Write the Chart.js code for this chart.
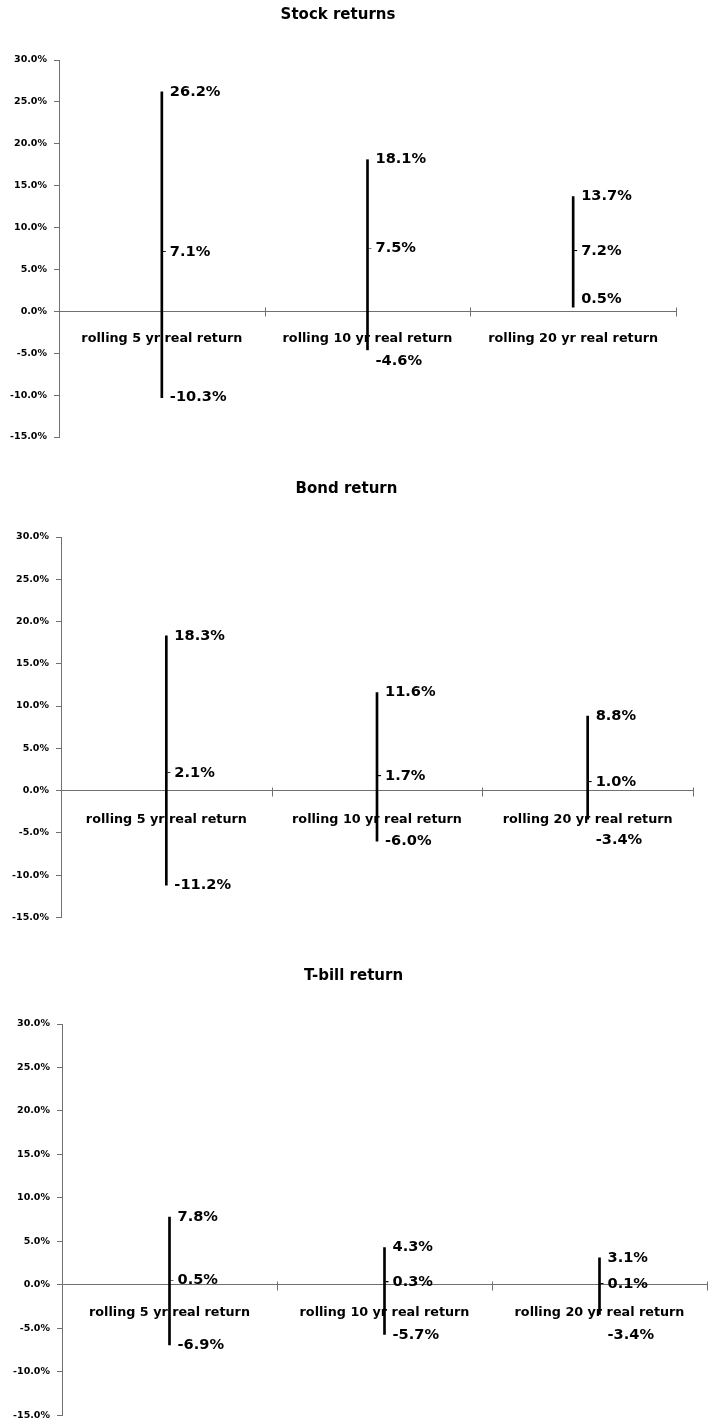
<!DOCTYPE html>
<html>
<head>
<meta charset="utf-8">
<script src="https://cdn.jsdelivr.net/npm/chart.js@4.4.1/dist/chart.umd.min.js"></script>
<style>
  html, body { margin: 0; padding: 0; background: #fff; overflow: hidden; width: 708px; height: 1428px; }
  canvas { position: absolute; left: 0; }
</style>
</head>
<body>
<canvas id="c1" width="682" height="460" style="top:0px"></canvas>
<canvas id="c2" width="700" height="460" style="top:470px"></canvas>
<canvas id="c3" width="718" height="488" style="top:940px"></canvas>
<script>
// ---------- data ----------
const categories = ['rolling 5 yr real return', 'rolling 10 yr real return', 'rolling 20 yr real return'];

const stockHigh = [26.2, 18.1, 13.7];
const stockMean = [7.1, 7.5, 7.2];
const stockLow  = [-10.3, -4.6, 0.5];

const bondHigh = [18.3, 11.6, 8.8];
const bondMean = [2.1, 1.7, 1.0];
const bondLow  = [-11.2, -6.0, -3.4];

const tbillHigh = [7.8, 4.3, 3.1];
const tbillMean = [0.5, 0.3, 0.1];
const tbillLow  = [-6.9, -5.7, -3.4];

const yTickValues = [-15, -10, -5, 0, 5, 10, 15, 20, 25, 30];
const titles = ['Stock returns', 'Bond return', 'T-bill return'];

// ---------- styling ----------
const FONT = 'DejaVu Sans';
const AXIS_COLOR = '#707070';

// mean tick marker (drawn to the right of the range line)
const meanMark = document.createElement('canvas');
meanMark.width = 12; meanMark.height = 2;
(function () {
  const g = meanMark.getContext('2d');
  g.fillStyle = '#000';
  g.fillRect(7, 0, 3, 1);
})();

const fmt = v => v.toFixed(1) + '%';

const crossTicks = {
  id: 'crossTicks',
  afterDraw(chart) {
    const xs = chart.scales.x, ys = chart.scales.y;
    const y0 = Math.round(ys.getPixelForValue(0)) + 0.5;
    const ctx = chart.ctx;
    ctx.save();
    ctx.strokeStyle = AXIS_COLOR;
    ctx.lineWidth = 1;
    for (let i = 0; i <= categories.length; i++) {
      const x = Math.round(xs.getPixelForValue(i - 0.5)) + 0.5;
      ctx.beginPath();
      ctx.moveTo(x, y0 - 4);
      ctx.lineTo(x, y0 + 5);
      ctx.stroke();
    }
    ctx.restore();
  }
};

const hlcLabels = {
  id: 'hlcLabels',
  afterDatasetsDraw(chart, args, opts) {
    const ys = chart.scales.y;
    const meta = chart.getDatasetMeta(0);
    const ctx = chart.ctx;
    const zeroY = ys.getPixelForValue(0);
    const catY = zeroY + 26;
    ctx.save();
    ctx.fillStyle = '#000';
    ctx.font = 'bold 14.6px "' + FONT + '"';
    ctx.textAlign = 'left';
    ctx.textBaseline = 'middle';
    meta.data.forEach((bar, i) => {
      const x = bar.x + 8;
      const hi = opts.high[i], me = opts.mean[i], lo = opts.low[i];
      ctx.fillText(fmt(hi), x, ys.getPixelForValue(hi));
      ctx.fillText(fmt(me), x, ys.getPixelForValue(me));
      let ly = ys.getPixelForValue(lo);
      if (lo >= 0 && ly + 7 > zeroY) ly = zeroY - 12;
      else if (ly > catY - 14 && ly < catY + 24) ly = catY + 24;
      ctx.fillText(fmt(lo), x, ly);
    });
    ctx.restore();
  }
};

function makeChart(id, title, high, mean, low, geo) {
  const ranges = high.map((h, i) => [low[i], h]);
  return new Chart(document.getElementById(id), {
    data: {
      labels: categories,
      datasets: [
        {
          type: 'bar',
          data: ranges,
          backgroundColor: '#000',
          borderWidth: 0,
          barThickness: 2,
          order: 2
        },
        {
          type: 'line',
          data: mean,
          showLine: false,
          pointStyle: meanMark,
          pointRadius: 3,
          order: 1
        }
      ]
    },
    options: {
      responsive: false,
      animation: false,
      events: [],
      layout: { padding: { left: 0, right: geo.right, top: 0, bottom: geo.bottom } },
      plugins: {
        legend: { display: false },
        tooltip: { enabled: false },
        title: {
          display: true,
          text: title,
          color: '#000',
          font: { family: FONT, size: 15, weight: 'bold', lineHeight: 1.2 },
          padding: { top: geo.titleTop, bottom: geo.titleBottom }
        },
        hlcLabels: { high: high, mean: mean, low: low }
      },
      scales: {
        x: {
          type: 'category',
          offset: true,
          position: { y: 0 },
          grid: { display: false },
          border: { display: true, color: AXIS_COLOR, width: 1 },
          ticks: {
            color: '#000',
            padding: geo.xPad,
            maxRotation: 0,
            autoSkip: false,
            font: { family: FONT, size: 12.75, weight: 'bold' }
          },
          afterFit(s) { s.height = 0; }
        },
        y: {
          type: 'linear',
          position: 'left',
          min: -15,
          max: 30,
          afterBuildTicks(s) { s.ticks = yTickValues.map(v => ({ value: v })); },
          grid: { display: true, drawOnChartArea: false, drawTicks: true, tickLength: 5, color: AXIS_COLOR },
          border: { display: true, color: AXIS_COLOR, width: 1 },
          ticks: {
            color: '#000',
            padding: 7,
            font: { family: FONT, size: 9.5, weight: 'bold' },
            callback: v => fmt(v)
          },
          afterFit(s) { s.width = geo.yWidth; }
        }
      }
    },
    plugins: [crossTicks, hlcLabels]
  });
}

makeChart('c1', titles[0], stockHigh, stockMean, stockLow,
  { right: 6, bottom: 23, titleTop: 6, titleBottom: 36, yWidth: 59, xPad: 12 });
makeChart('c2', titles[1], bondHigh, bondMean, bondLow,
  { right: 7, bottom: 6, titleTop: 10, titleBottom: 39, yWidth: 61, xPad: 14 });
makeChart('c3', titles[2], tbillHigh, tbillMean, tbillLow,
  { right: 11, bottom: 11, titleTop: 27, titleBottom: 39, yWidth: 62, xPad: 12 });
</script>
</body>
</html>
